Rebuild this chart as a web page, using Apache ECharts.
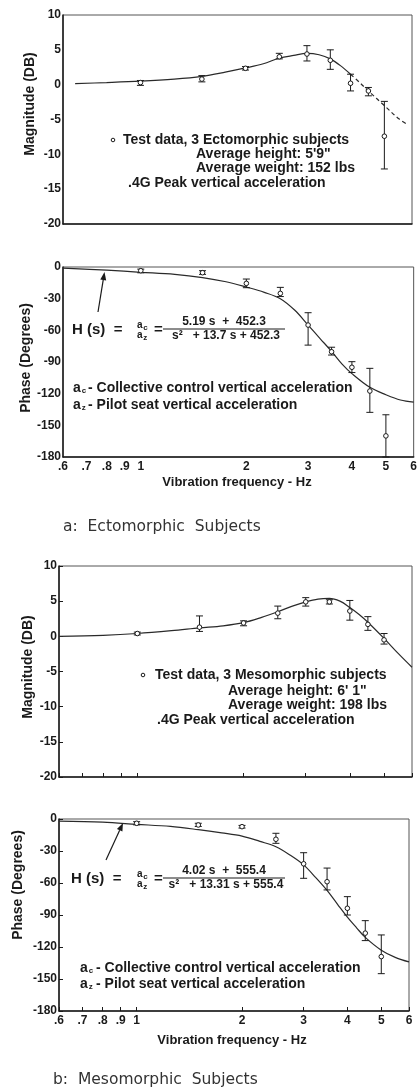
<!DOCTYPE html>
<html><head><meta charset="utf-8">
<script src="https://cdn.jsdelivr.net/npm/echarts@6/dist/echarts.min.js"></script>
<style>html,body{margin:0;padding:0;background:#fff}#c{width:420px;height:1091px}</style>
</head><body><div id="c"></div>
<script>
// ---------- DATA ----------
const pointFreq = [1, 1.5, 2, 2.5, 3, 3.5, 4, 4.5, 5];

// (a) Ectomorphic - magnitude (dB)
const ectoMag     = [0.3, 0.8, 2.35, 4.0, 4.4, 3.5, 0.2, -0.9, -7.4];
const ectoMagLow  = [-0.1, 0.4, 2.1, 3.7, 3.4, 2.2, -0.9, -1.6, -12.1];
const ectoMagHigh = [0.6, 1.3, 2.6, 4.5, 5.6, 5.0, 1.5, -0.4, -2.4];
const ectoMagFitFreq = [0.65, 0.8, 1.0, 1.25, 1.5, 1.75, 2.0, 2.25, 2.5, 2.75, 3.0, 3.25, 3.5, 3.75, 4.0, 4.25, 4.5, 5.0, 5.5, 5.85];
const ectoMagFit     = [0.15, 0.3, 0.5, 0.8, 1.2, 1.8, 2.4, 3.0, 3.8, 4.2, 4.5, 4.3, 3.7, 2.7, 1.5, 0.3, -0.9, -3.0, -4.9, -5.8];

// (a) Ectomorphic - phase (degrees)
const ectoPh     = [-3.5, -5.4, -15.5, -25, -55, -80.3, -95, -117.5, -160];
const ectoPhLow  = [-5.5, -7, -19.6, -28, -74, -83.4, -100, -137.7, -180];
const ectoPhHigh = [-2, -3.5, -11.4, -19.3, -43.3, -76, -89.7, -96, -140];
const ectoPhFitFreq = [0.6, 0.8, 1.0, 1.25, 1.5, 1.75, 2.0, 2.25, 2.5, 2.75, 3.0, 3.25, 3.5, 3.75, 4.0, 4.5, 5.0, 5.5, 6.0];
const ectoPhFit     = [-1, -3, -5, -7, -10, -14, -19, -24, -30, -41, -55, -68, -80, -92, -101, -114, -121, -126, -128];

// (b) Mesomorphic - magnitude (dB)
const mesoMag     = [0.4, 1.3, 1.9, 3.3, 4.9, 4.9, 3.6, 1.7, -0.5];
const mesoMagLow  = [0.2, 0.7, 1.5, 2.5, 4.3, 4.6, 2.3, 0.85, -1.1];
const mesoMagHigh = [0.6, 2.9, 2.2, 4.3, 5.5, 5.2, 5.1, 2.8, 0.4];
const mesoMagFitFreq = [0.6, 0.8, 1.0, 1.25, 1.5, 1.75, 2.0, 2.25, 2.5, 2.75, 3.0, 3.25, 3.5, 3.75, 4.0, 4.25, 4.5, 5.0, 5.5, 6.0];
const mesoMagFit     = [0.0, 0.15, 0.4, 0.8, 1.2, 1.5, 1.95, 2.7, 3.5, 4.3, 4.9, 5.3, 5.4, 5.0, 4.1, 3.1, 2.0, -0.3, -2.5, -4.4];

// (b) Mesomorphic - phase (degrees)
const mesoPh     = [-4, -5.6, -7.2, -19, -42, -58.8, -83.7, -107, -129];
const mesoPhLow  = [-5.5, -7, -8.5, -22.8, -55.6, -66.5, -90, -114, -145];
const mesoPhHigh = [-2.5, -4, -6, -13.4, -31.6, -46, -72.8, -95.3, -108.7];
const mesoPhFitFreq = [0.6, 0.8, 1.0, 1.25, 1.5, 1.75, 2.0, 2.25, 2.5, 2.75, 3.0, 3.25, 3.5, 3.75, 4.0, 4.25, 4.5, 5.0, 5.5, 6.0];
const mesoPhFit     = [-2, -3, -5, -7, -10, -13, -16, -21, -26, -34, -43, -55, -67, -80, -92, -102, -111, -123, -130, -134];

const tickFreqs  = [0.6, 0.7, 0.8, 0.9, 1, 2, 3, 4, 5, 6];
const tickLabels = ['.6', '.7', '.8', '.9', '1', '2', '3', '4', '5', '6'];

// ---------- HELPERS ----------
const FONT = '"Liberation Sans", Arial, Helvetica, sans-serif';
const INK = '#1a1a1a';
const zip = (xs, ys) => xs.map((x, i) => [x, ys[i]]);
const errData = (m, lo, hi) => pointFreq.map((f, i) => [f, m[i], lo[i], hi[i]]);

function freqLabel(v) {
  for (let i = 0; i < tickFreqs.length; i++) {
    if (Math.abs(tickFreqs[i] - v) < 1e-6) return tickLabels[i];
  }
  return '';
}

function errRender(params, api) {
  const x = api.value(0), y = api.value(1), lo = api.value(2), hi = api.value(3);
  const p = api.coord([x, y]), pl = api.coord([x, lo]), ph = api.coord([x, hi]);
  const w = 3.5;
  const st = { stroke: INK, lineWidth: 1, fill: null };
  return {
    type: 'group',
    children: [
      { type: 'line', shape: { x1: ph[0], y1: ph[1], x2: pl[0], y2: pl[1] }, style: st },
      { type: 'line', shape: { x1: ph[0] - w, y1: ph[1], x2: ph[0] + w, y2: ph[1] }, style: st },
      { type: 'line', shape: { x1: pl[0] - w, y1: pl[1], x2: pl[0] + w, y2: pl[1] }, style: st },
      { type: 'circle', shape: { cx: p[0], cy: p[1], r: 2.3 }, style: { stroke: INK, fill: '#fff', lineWidth: 1 } }
    ]
  };
}

function xAxisCfg(gi, showLabels, showTicks) {
  return {
    type: 'log', gridIndex: gi, min: 0.6, max: 6, logBase: 10,
    axisLine: { show: true, onZero: false, lineStyle: { color: INK, width: 1.5 } },
    axisTick: { show: showTicks, inside: true, length: 4, customValues: tickFreqs, lineStyle: { color: INK } },
    axisLabel: { show: showLabels, customValues: tickFreqs, formatter: freqLabel, margin: 4,
      color: INK, fontFamily: FONT, fontWeight: 'bold', fontSize: 12 },
    splitLine: { show: false }, minorTick: { show: false }
  };
}
function yAxisCfg(gi, min, max, interval, showTicks) {
  return {
    type: 'value', gridIndex: gi, min: min, max: max, interval: interval,
    axisLine: { show: true, onZero: false, lineStyle: { color: INK, width: 1.5 } },
    axisTick: { show: showTicks, inside: true, length: 4, lineStyle: { color: INK } },
    axisLabel: { margin: 2, color: INK, fontFamily: FONT, fontWeight: 'bold', fontSize: 12 },
    splitLine: { show: false }
  };
}

function lineSeries(ai, data, dashed) {
  return {
    type: 'line', xAxisIndex: ai, yAxisIndex: ai, data: data, smooth: 0.35,
    symbol: 'none', silent: true,
    lineStyle: { color: '#2a2a2a', width: 1.2, type: dashed ? [4, 3] : 'solid' }
  };
}
function errSeries(ai, data) {
  return { type: 'custom', xAxisIndex: ai, yAxisIndex: ai, data: data, renderItem: errRender, silent: true, z: 5 };
}

function txt(x, y, text, opts) {
  opts = opts || {};
  return {
    type: 'text', x: x, y: y, rotation: opts.rot || 0, silent: true, z: 100,
    style: {
      text: text, fill: opts.color || INK,
      font: (opts.weight || 'bold') + ' ' + (opts.size || 13) + 'px ' + (opts.family || FONT),
      textAlign: opts.align || 'left', align: opts.align || 'left',
      textVerticalAlign: 'middle', verticalAlign: 'middle'
    }
  };
}
function hline(x1, x2, y) {
  return { type: 'line', silent: true, z: 100, shape: { x1: x1, y1: y, x2: x2, y2: y }, style: { stroke: INK, lineWidth: 1 } };
}
function arrow(x1, y1, x2, y2) {
  const dx = x2 - x1, dy = y2 - y1, L = Math.hypot(dx, dy);
  const ux = dx / L, uy = dy / L, hl = 8, hw = 3;
  const bx = x2 - ux * hl, by = y2 - uy * hl;
  return [
    { type: 'line', silent: true, z: 100, shape: { x1: x1, y1: y1, x2: bx, y2: by }, style: { stroke: INK, lineWidth: 1.2 } },
    { type: 'polygon', silent: true, z: 100, shape: { points: [[x2, y2], [bx - uy * hw, by + ux * hw], [bx + uy * hw, by - ux * hw]] }, style: { fill: INK } }
  ];
}
function subA(x, y, sub, size) {
  const s = size || 14;
  return [txt(x, y, 'a', { size: s }), txt(x + s * 0.62, y + 3, sub, { size: 8 })];
}
function formula(xH, yMid, num, den) {
  return [
    txt(xH, yMid, 'H (s)  =', { size: 15 }),
    ...subA(137, yMid - 5, 'c', 10),
    ...subA(137, yMid + 5, 'z', 10),
    txt(154, yMid, '=', { size: 15 }),
    txt(224, yMid - 8, num, { size: 12, align: 'center' }),
    hline(163, 285, yMid - 1),
    txt(226, yMid + 6, den, { size: 12, align: 'center' })
  ];
}

// ---------- GRAPHICS (annotations) ----------
const graphics = [
  // y-axis names
  txt(30, 104, 'Magnitude (DB)', { size: 14, rot: Math.PI / 2, align: 'center' }),
  txt(26, 358, 'Phase (Degrees)', { size: 14, rot: Math.PI / 2, align: 'center' }),
  txt(28, 667, 'Magnitude (DB)', { size: 14, rot: Math.PI / 2, align: 'center' }),
  txt(18, 885, 'Phase (Degrees)', { size: 14, rot: Math.PI / 2, align: 'center' }),
  // x-axis names
  txt(237, 482, 'Vibration frequency - Hz', { size: 13, align: 'center' }),
  txt(232, 1040, 'Vibration frequency - Hz', { size: 13, align: 'center' }),
  // captions
  txt(63, 527, 'a:  Ectomorphic  Subjects', { size: 15.5, weight: 'normal', family: '"DejaVu Sans", sans-serif', color: '#333' }),
  txt(53, 1080, 'b:  Mesomorphic  Subjects', { size: 15.5, weight: 'normal', family: '"DejaVu Sans", sans-serif', color: '#333' }),
  // plot 1 legend block
  { type: 'circle', silent: true, z: 100, shape: { cx: 113, cy: 140, r: 1.8 }, style: { stroke: INK, fill: '#fff', lineWidth: 1 } },
  txt(123, 140, 'Test data, 3 Ectomorphic subjects', { size: 14 }),
  txt(196, 154, 'Average height: 5\'9"', { size: 14 }),
  txt(196, 168, 'Average weight: 152 lbs', { size: 14 }),
  txt(128, 183, '.4G Peak vertical acceleration', { size: 14 }),
  // plot 3 legend block
  { type: 'circle', silent: true, z: 100, shape: { cx: 143, cy: 675, r: 1.8 }, style: { stroke: INK, fill: '#fff', lineWidth: 1 } },
  txt(155, 675, 'Test data, 3 Mesomorphic subjects', { size: 14 }),
  txt(228, 691, 'Average height: 6\' 1"', { size: 14 }),
  txt(228, 705, 'Average weight: 198 lbs', { size: 14 }),
  txt(157, 720, '.4G Peak vertical acceleration', { size: 14 }),
  // plot 2 formula + definitions
  ...formula(72, 330, '5.19 s  +  452.3', 's\u00B2   + 13.7 s + 452.3'),
  ...arrow(98, 312, 104.5, 272),
  ...subA(73, 388, 'c'), txt(88, 388, '- Collective control vertical acceleration', { size: 14 }),
  ...subA(73, 405, 'z'), txt(88, 405, '- Pilot seat vertical acceleration', { size: 14 }),
  // plot 4 formula + definitions
  ...formula(71, 879, '4.02 s  +  555.4', 's\u00B2   + 13.31 s + 555.4'),
  ...arrow(106, 860, 123, 823),
  ...subA(80, 968, 'c'), txt(96, 968, '- Collective control vertical acceleration', { size: 14 }),
  ...subA(80, 984, 'z'), txt(96, 984, '- Pilot seat vertical acceleration', { size: 14 })
];

// ---------- CHART ----------
const gridBase = { show: true, borderColor: '#555', borderWidth: 1, backgroundColor: 'transparent', containLabel: false };
const splitIdx = ectoMagFitFreq.indexOf(4.0);

const option = {
  animation: false,
  backgroundColor: '#fff',
  grid: [
    Object.assign({ left: 63, top: 15, width: 349, height: 209 }, gridBase),
    Object.assign({ left: 63, top: 267, width: 351, height: 190 }, gridBase),
    Object.assign({ left: 59, top: 566, width: 353, height: 211 }, gridBase),
    Object.assign({ left: 59, top: 819, width: 350, height: 192 }, gridBase)
  ],
  xAxis: [
    xAxisCfg(0, false, false),
    xAxisCfg(1, true, false),
    xAxisCfg(2, false, true),
    xAxisCfg(3, true, true)
  ],
  yAxis: [
    yAxisCfg(0, -20, 10, 5, false),
    yAxisCfg(1, -180, 0, 30, false),
    yAxisCfg(2, -20, 10, 5, true),
    yAxisCfg(3, -180, 0, 30, true)
  ],
  series: [
    lineSeries(0, zip(ectoMagFitFreq, ectoMagFit).slice(0, splitIdx + 1), false),
    lineSeries(0, zip(ectoMagFitFreq, ectoMagFit).slice(splitIdx), true),
    errSeries(0, errData(ectoMag, ectoMagLow, ectoMagHigh)),
    lineSeries(1, zip(ectoPhFitFreq, ectoPhFit), false),
    errSeries(1, errData(ectoPh, ectoPhLow, ectoPhHigh)),
    lineSeries(2, zip(mesoMagFitFreq, mesoMagFit), false),
    errSeries(2, errData(mesoMag, mesoMagLow, mesoMagHigh)),
    lineSeries(3, zip(mesoPhFitFreq, mesoPhFit), false),
    errSeries(3, errData(mesoPh, mesoPhLow, mesoPhHigh))
  ],
  graphic: { elements: graphics }
};

const chart = echarts.init(document.getElementById('c'), null, { renderer: 'canvas' });
chart.setOption(option);
</script>
</body></html>
